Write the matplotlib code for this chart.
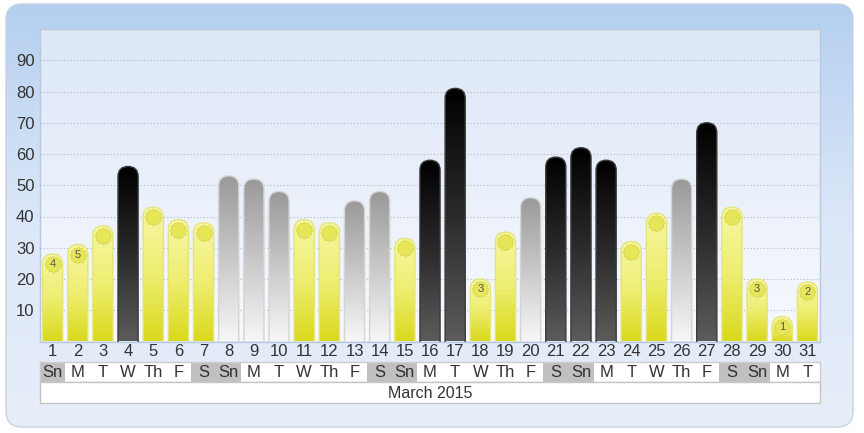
import numpy as np
import matplotlib
matplotlib.use("Agg")
import matplotlib.pyplot as plt
from matplotlib.patches import FancyBboxPatch, Rectangle
from matplotlib.colors import LinearSegmentedColormap
from matplotlib.path import Path

plt.rcParams['font.family'] = ['Liberation Sans', 'DejaVu Sans']

# data
days = [1, 2, 3, 4, 5, 6, 7, 8, 9, 10, 11, 12, 13, 14, 15, 16,
        17, 18, 19, 20, 21, 22, 23, 24, 25, 26, 27, 28, 29, 30, 31]
weekdays = ['Sn', 'M', 'T', 'W', 'Th', 'F', 'S', 'Sn', 'M', 'T', 'W', 'Th', 'F', 'S', 'Sn', 'M',
            'T', 'W', 'Th', 'F', 'S', 'Sn', 'M', 'T', 'W', 'Th', 'F', 'S', 'Sn', 'M', 'T']
values = [28, 31, 37, 56, 43, 39, 38, 53, 52, 48, 39, 38, 45, 48, 33, 58,
          81, 20, 35, 46, 59, 62, 58, 32, 41, 52, 70, 43, 20, 8, 19]
# y = sunny, g = grey, k = dark
kinds = ['y', 'y', 'y', 'k', 'y', 'y', 'y', 'g', 'g', 'g', 'y', 'y', 'g', 'g', 'y', 'k',
         'k', 'y', 'y', 'g', 'k', 'k', 'k', 'y', 'y', 'g', 'k', 'y', 'y', 'y', 'y']
sun_labels = ['4', '5', '', '', '', '', '', '', '', '', '', '', '', '', '', '',
              '', '3', '', '', '', '', '', '', '', '', '', '', '3', '1', '2']
month_label = "March 2015"
yticks = [10, 20, 30, 40, 50, 60, 70, 80, 90]

W, H = 864, 433
PL, PT, PR, PB = 40, 29, 820, 341.5   # plot area in pixels

fig = plt.figure(figsize=(W / 100, H / 100), dpi=100)
bg = fig.add_axes([0, 0, 1, 1])
bg.axis('off')

grad = np.linspace(0, 1, 256).reshape(-1, 1)

# outer rounded panel
frame = FancyBboxPatch((6, 4), 847, 423, boxstyle="round,pad=0,rounding_size=16",
                       fc='none', ec='#c8d2e0', lw=1, zorder=2)
bg.add_patch(frame)
im = bg.imshow(grad, extent=(6, 853, 427, 4), origin='upper', aspect='auto',
               cmap=LinearSegmentedColormap.from_list('bg', ['#b4cff0', '#dbe7f8', '#e8eefa']),
               zorder=1)
im.set_clip_path(frame)

# plot area
parea = Rectangle((PL, PT), PR - PL, PB - PT, fc='none', ec='#b8c8de', lw=1, zorder=4)
bg.add_patch(parea)
im2 = bg.imshow(grad, extent=(PL, PR, PB, PT), origin='upper', aspect='auto',
                cmap=LinearSegmentedColormap.from_list('pa', ['#dde7f7', '#f7f9fe']),
                zorder=3)
im2.set_clip_path(parea)
bg.set_xlim(0, W)
bg.set_ylim(H, 0)

ax = fig.add_axes([PL / W, (H - PB) / H, (PR - PL) / W, (PB - PT) / H])
ax.patch.set_alpha(0)
for s in ax.spines.values():
    s.set_visible(False)

for y in yticks:
    ax.axhline(y, color='#b0b8c8', lw=0.8, ls=(0, (1, 2)), zorder=1)

cmaps = {
    'y': LinearSegmentedColormap.from_list('y', ['#f7f7a6', '#eeee72', '#d9d91c']),
    'g': LinearSegmentedColormap.from_list('g', ['#999999', '#c8c8c8', '#f7f7f7']),
    'k': LinearSegmentedColormap.from_list('k', ['#000000', '#2a2a2a', '#5c5c5c']),
}
edges = {'y': '#e4e47a', 'g': '#d4d4d4', 'k': '#3a3a3a'}

px_x = (PR - PL) / len(days)
px_y = (PB - PT) / 100
asp = px_x / px_y
bw = 0.8

# gear shaped sun marker
ang = np.linspace(0, 2 * np.pi, 25)[:-1]
rad = np.where(np.arange(24) % 2 == 0, 1.0, 0.84)
verts = np.column_stack([rad * np.cos(ang), rad * np.sin(ang)])
verts = np.vstack([verts, verts[:1]])
gear = Path(verts, [Path.MOVETO] + [Path.LINETO] * 23 + [Path.CLOSEPOLY])

for d, v, k, lab in zip(days, values, kinds, sun_labels):
    x0 = d - bw / 2
    bar = FancyBboxPatch((x0, -10), bw, v + 10,
                         boxstyle="round,pad=0,rounding_size=%.3f" % (bw / 2),
                         mutation_aspect=asp, fc='none', ec=edges[k], lw=1, zorder=3)
    ax.add_patch(bar)
    img = ax.imshow(grad, extent=(x0, x0 + bw, 0, v), origin='upper', aspect='auto',
                    cmap=cmaps[k], interpolation='bilinear', zorder=2)
    img.set_clip_path(bar)
    if k == 'y':
        cy = v - 10 / px_y
        ax.plot(d, cy, marker=gear, ms=12, mfc='#e6e658', mec='#d8d850', mew=0.6, zorder=4)
        if lab:
            ax.text(d, cy, lab, ha='center', va='center', fontsize=8, color='#555555', zorder=5)

ax.set_xlim(0.5, len(days) + 0.5)
ax.set_ylim(0, 100)
ax.set_xticks([])
ax.set_yticks(yticks)
ax.tick_params(axis='y', length=0, pad=4, labelsize=12, labelcolor='#333333')

# label rows under the chart
R1, R2, R3 = 362, 382, 403
rows = fig.add_axes([PL / W, (H - 404) / H, (PR - PL) / W, (404 - PB) / H])
rows.patch.set_alpha(0)
rows.axis('off')
rows.set_xlim(0.5, len(days) + 0.5)
rows.set_ylim(404, PB)

for d, wd in zip(days, weekdays):
    rows.text(d, 351, str(d), ha='center', va='center', fontsize=12, color='#333333')
    fc = '#c0c0c0' if wd in ('S', 'Sn') else 'white'
    rows.add_patch(Rectangle((d - 0.5, R1), 1, R2 - R1, fc=fc, ec='none', clip_on=False))
    rows.text(d, (R1 + R2) / 2 + 0.5, wd, ha='center', va='center', fontsize=12, color='#333333')
rows.add_patch(Rectangle((0.5, R1), len(days), R2 - R1, fc='none', ec='#cccccc', lw=1, clip_on=False))
rows.add_patch(Rectangle((0.5, R2), len(days), R3 - R2, fc='white', ec='#c4c4c4', lw=1, clip_on=False))
rows.text((len(days) + 1) / 2, (R2 + R3) / 2 + 0.5, month_label, ha='center', va='center',
          fontsize=11.5, color='#333333')

fig.savefig("out.png", dpi=100)
